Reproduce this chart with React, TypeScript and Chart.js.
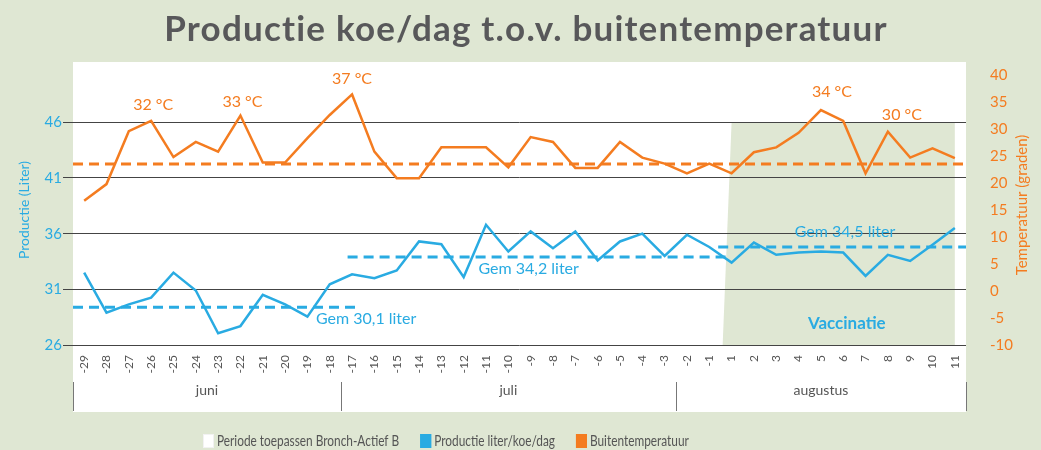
import React, { useEffect, useRef } from 'react';
import { Chart, registerables } from 'chart.js';

Chart.register(...registerables);

// ---------- DATA ----------
const dayLabels = [
  '-29', '-28', '-27', '-26', '-25', '-24', '-23', '-22', '-21', '-20', '-19', '-18',
  '-17', '-16', '-15', '-14', '-13', '-12', '-11', '-10', '-9', '-8', '-7', '-6', '-5', '-4', '-3',
  '-2', '-1', '1', '2', '3', '4', '5', '6', '7', '8', '9', '10', '11',
];

const production = [
  32.5, 28.9, 29.65, 30.25, 32.5, 30.9, 27.05, 27.7, 30.5, 29.65, 28.55, 31.45,
  32.35, 32.0, 32.7, 35.3, 35.05, 32.1, 36.8, 34.4, 36.2, 34.7, 36.2, 33.6, 35.3, 36.0, 34.0,
  35.9, 34.8, 33.4, 35.2, 34.1, 34.3, 34.4, 34.3, 32.2, 34.1, 33.55, 35.0, 36.5,
];

const temperature = [
  16.7, 19.8, 29.6, 31.5, 24.8, 27.6, 25.8, 32.5, 23.8, 23.8, 28.3, 32.6,
  36.4, 25.8, 20.9, 20.9, 26.6, 26.6, 26.6, 22.9, 28.5, 27.6, 22.8, 22.8, 27.6, 24.7, 23.6,
  21.8, 23.6, 21.8, 25.7, 26.6, 29.3, 33.5, 31.5, 21.8, 29.5, 24.7, 26.4, 24.6,
];

const productionMeanValues = [29.4, 33.9, 34.8];
const productionMeanFrom = [-0.5, 11.8, 28.4];
const productionMeanTo = [12.2, 28.8, 39.5];
const productionMeanLabels = ['Gem 30,1 liter', 'Gem 34,2 liter', 'Gem 34,5 liter'];

const temperatureMean = 23.5;

const tempPeakIndex = [3, 7, 12, 33, 36];
const tempPeakLabels = ['32 °C', '33 °C', '37 °C', '34 °C', '30 °C'];

const monthLabels = ['juni', 'juli', 'augustus'];
const monthDayCounts = [12, 15, 13];

const productionTicks = [26, 31, 36, 41, 46];
const temperatureTicks = [-10, -5, 0, 5, 10, 15, 20, 25, 30, 35, 40];

const vaccinationBandStart = [28.6, 29.0]; // bottom, top (day index)
const vaccinationBandEnd = 39;
const vaccinationBandTop = 46;
const vaccinationText = 'Vaccinatie';

const titleText = 'Productie koe/dag t.o.v. buitentemperatuur';
const legendTexts = ['Periode toepassen Bronch-Actief B', 'Productie liter/koe/dag', 'Buitentemperatuur'];

// ---------- STYLE ----------
const BG = '#dfe7d3';
const BLUE = '#29abe2';
const ORANGE = '#f47c20';
const GREY = '#555555';
const FONT = 'Lato, "Open Sans", sans-serif';

const tempPeakOffsets = [[2, -16], [2, -14], [0, -16], [11, -18], [14, -17]];
const meanLabelAnchors = [[10.38, 28.33], [17.66, 32.8], [31.83, 36.12]];
const vaccinationTextAnchor = [34.16, 27.9];

const backgroundPlugin = {
  id: 'bgPanel',
  beforeDraw(chart: any) {
    const { ctx, chartArea, scales } = chart;
    const x = scales.x;
    const y = scales.y;
    ctx.save();
    ctx.fillStyle = BG;
    ctx.fillRect(0, 0, chart.width, chart.height);
    ctx.fillStyle = '#ffffff';
    const top = chartArea.top - 13;
    ctx.fillRect(chartArea.left, top, chartArea.right - chartArea.left, x.bottom - top);
    // vaccination band
    ctx.fillStyle = BG;
    ctx.beginPath();
    ctx.moveTo(x.getPixelForValue(vaccinationBandStart[0]), y.getPixelForValue(productionTicks[0]));
    ctx.lineTo(x.getPixelForValue(vaccinationBandStart[1]), y.getPixelForValue(vaccinationBandTop));
    ctx.lineTo(x.getPixelForValue(vaccinationBandEnd), y.getPixelForValue(vaccinationBandTop));
    ctx.lineTo(x.getPixelForValue(vaccinationBandEnd), y.getPixelForValue(productionTicks[0]));
    ctx.closePath();
    ctx.fill();
    ctx.restore();
  },
};

const overlayPlugin = {
  id: 'overlay',
  afterDraw(chart: any) {
    const { ctx, chartArea, scales } = chart;
    const x = scales.x;
    const y = scales.y;
    const y2 = scales.y2;
    ctx.save();

    // title
    ctx.save();
    ctx.font = `bold 35px ${FONT}`;
    (ctx as any).letterSpacing = '1.2px';
    ctx.fillStyle = '#58585a';
    ctx.textAlign = 'center';
    ctx.textBaseline = 'middle';
    ctx.fillText(titleText, 526, 30);
    ctx.restore();

    // temperature peak labels
    ctx.font = `16px ${FONT}`;
    ctx.fillStyle = ORANGE;
    ctx.textAlign = 'center';
    ctx.textBaseline = 'middle';
    tempPeakIndex.forEach((idx, k) => {
      const px = x.getPixelForValue(idx) + tempPeakOffsets[k][0];
      const py = y2.getPixelForValue(temperature[idx]) + tempPeakOffsets[k][1];
      ctx.fillText(tempPeakLabels[k], px, py);
    });

    // mean labels
    ctx.fillStyle = BLUE;
    ctx.textAlign = 'left';
    productionMeanLabels.forEach((t, k) => {
      ctx.fillText(t, x.getPixelForValue(meanLabelAnchors[k][0]), y.getPixelForValue(meanLabelAnchors[k][1]));
    });

    // vaccination text
    ctx.font = `bold 17px ${FONT}`;
    ctx.textAlign = 'center';
    ctx.fillText(vaccinationText, x.getPixelForValue(vaccinationTextAnchor[0]), y.getPixelForValue(vaccinationTextAnchor[1]));

    // month row
    const rowTop = x.bottom - 30;
    const rowBottom = x.bottom - 1;
    ctx.strokeStyle = '#777777';
    ctx.lineWidth = 1;
    let start = -0.5;
    const bounds = [start];
    monthDayCounts.forEach((c) => { start += c; bounds.push(start); });
    bounds.forEach((b) => {
      const px = Math.round(x.getPixelForValue(b)) + 0.5;
      ctx.beginPath();
      ctx.moveTo(px, rowTop);
      ctx.lineTo(px, rowBottom);
      ctx.stroke();
    });
    ctx.font = `14px ${FONT}`;
    ctx.fillStyle = GREY;
    ctx.textAlign = 'center';
    monthLabels.forEach((m, k) => {
      const cx = (x.getPixelForValue(bounds[k]) + x.getPixelForValue(bounds[k + 1])) / 2;
      ctx.fillText(m, cx, x.bottom - 22);
    });

    // right axis title
    ctx.save();
    ctx.translate(1022, (chartArea.top + chartArea.bottom) / 2 - 5);
    ctx.rotate(-Math.PI / 2);
    ctx.font = `15px ${FONT}`;
    ctx.fillStyle = ORANGE;
    ctx.textAlign = 'center';
    ctx.fillText('Temperatuur (graden)', 0, 0);
    ctx.restore();

    // legend
    const boxes = [
      { fill: '#ffffff', stroke: '#f2f2f2' },
      { fill: BLUE, stroke: BLUE },
      { fill: ORANGE, stroke: ORANGE },
    ];
    const squeeze = 0.79;
    ctx.font = `15px ${FONT}`;
    ctx.textAlign = 'left';
    let lx = 203;
    const ly = 441;
    legendTexts.forEach((t, k) => {
      ctx.fillStyle = boxes[k].fill;
      ctx.fillRect(lx, ly - 7, 11, 14);
      ctx.strokeStyle = boxes[k].stroke;
      ctx.lineWidth = 1;
      ctx.strokeRect(lx + 0.5, ly - 6.5, 10, 13);
      ctx.fillStyle = GREY;
      ctx.save();
      ctx.translate(lx + 14, ly);
      ctx.scale(squeeze, 1);
      ctx.fillText(t, 0, 0);
      ctx.restore();
      lx += 14 + ctx.measureText(t).width * squeeze + 21;
    });

    ctx.restore();
  },
};

export default function App() {
  const canvasRef = useRef<HTMLCanvasElement | null>(null);

  useEffect(() => {
    if (!canvasRef.current) return;
    const meanDatasets = productionMeanValues.map((v, k) => ({
      type: 'line' as const,
      label: productionMeanLabels[k],
      data: [{ x: productionMeanFrom[k], y: v }, { x: productionMeanTo[k], y: v }],
      borderColor: BLUE,
      borderWidth: 3,
      borderDash: [10, 6],
      pointRadius: 0,
      yAxisID: 'y',
    }));

    const chart = new Chart(canvasRef.current, {
      type: 'line',
      data: {
        datasets: [
          {
            label: 'Buitentemperatuur gemiddeld',
            data: [{ x: -0.5, y: temperatureMean }, { x: 39.5, y: temperatureMean }],
            borderColor: ORANGE,
            borderWidth: 3,
            borderDash: [10, 6],
            pointRadius: 0,
            yAxisID: 'y2',
          },
          ...meanDatasets,
          {
            label: 'Buitentemperatuur',
            data: temperature.map((v, i) => ({ x: i, y: v })),
            borderColor: ORANGE,
            borderWidth: 2.5,
            pointRadius: 0,
            tension: 0,
            yAxisID: 'y2',
          },
          {
            label: 'Productie liter/koe/dag',
            data: production.map((v, i) => ({ x: i, y: v })),
            borderColor: BLUE,
            borderWidth: 2.5,
            pointRadius: 0,
            tension: 0,
            yAxisID: 'y',
          },
        ],
      },
      options: {
        responsive: false,
        animation: false,
        layout: { padding: { top: 75, bottom: 38, left: 0, right: 0 } },
        plugins: {
          legend: { display: false },
          tooltip: { enabled: false },
          title: { display: false },
        },
        scales: {
          x: {
            type: 'linear',
            min: -0.5,
            max: 39.5,
            afterBuildTicks: (axis: any) => {
              axis.ticks = dayLabels.map((_, i) => ({ value: i }));
            },
            afterFit: (axis: any) => { axis.height = 67; },
            grid: { display: false, drawTicks: false },
            border: { display: false },
            ticks: {
              autoSkip: false,
              minRotation: 90,
              maxRotation: 90,
              padding: 10,
              color: GREY,
              font: { family: FONT, size: 12 },
              callback: (v: any) => dayLabels[Math.round(Number(v))],
            },
          },
          y: {
            position: 'left',
            min: 26,
            max: 50.25,
            afterBuildTicks: (axis: any) => {
              axis.ticks = productionTicks.map((v) => ({ value: v }));
            },
            afterFit: (axis: any) => { axis.width = 73; },
            grid: { color: '#444444', lineWidth: 1, drawTicks: true, tickLength: 10, tickColor: '#444444' },
            border: { display: false },
            ticks: { color: BLUE, font: { family: FONT, size: 15 }, padding: 1 },
            title: {
              display: true,
              text: 'Productie (Liter)',
              color: BLUE,
              font: { family: FONT, size: 14 },
              padding: { top: 16, bottom: 0 },
            },
          },
          y2: {
            position: 'right',
            min: -10,
            max: 40,
            afterBuildTicks: (axis: any) => {
              axis.ticks = temperatureTicks.map((v) => ({ value: v }));
            },
            afterFit: (axis: any) => { axis.width = 75; },
            grid: { display: false, drawTicks: false },
            border: { display: false },
            ticks: { color: ORANGE, font: { family: FONT, size: 15 }, padding: 24 },
          },
        },
      },
      plugins: [backgroundPlugin, overlayPlugin],
    } as any);

    return () => chart.destroy();
  }, []);

  return (
    <div style={{ position: 'fixed', left: 0, top: 0, width: 1041, height: 450, background: BG }}>
      <canvas ref={canvasRef} width={1041} height={450} />
    </div>
  );
}
